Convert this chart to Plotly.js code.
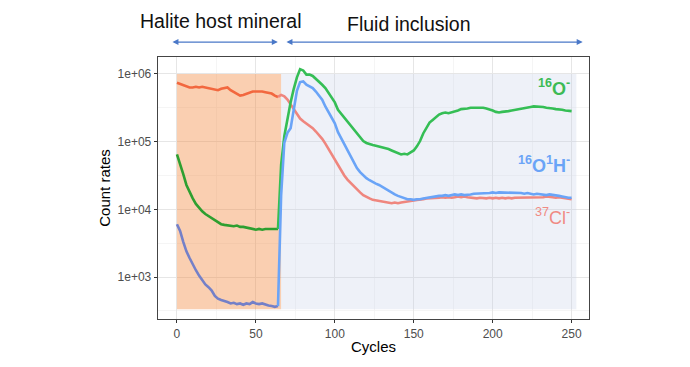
<!DOCTYPE html>
<html>
<head>
<meta charset="utf-8">
<script src="https://cdn.plot.ly/plotly-3.0.1.min.js"></script>
<style>html,body{margin:0;padding:0;background:#fff;}#chart{width:690px;height:367px;}</style>
</head>
<body>
<div id="chart"></div>
<script>
// Cycles (x)
var cycles = [0,2,4,6,8,10,12,14,16,18,20,22,24,26,28,30,32,34,36,38,40,42,44,46,48,50,52,54,56,58,60,62,64,66,68,70,72,74,76,78,80,82,84,86,88,90,92,94,96,98,100,102,104,106,108,110,112,114,116,118,120,122,124,126,128,130,132,134,136,138,140,142,144,146,148,150,152,154,156,158,160,162,164,166,168,170,172,174,176,178,180,182,184,186,188,190,192,194,196,198,200,202,204,206,208,210,212,214,216,218,220,222,224,226,228,230,232,234,236,238,240,242,244,246,248,250];

// 37Cl- count rates
var cl37 = [741000,708000,676000,646000,631000,631000,646000,631000,646000,631000,617000,603000,589000,575000,603000,617000,631000,575000,537000,501000,479000,490000,513000,537000,550000,550000,556000,550000,537000,525000,513000,479000,457000,490000,468000,417000,355000,302000,257000,219000,200000,186000,174000,158000,141000,126000,110000,93300,77600,64600,53700,43700,36300,31600,27500,24500,21900,19500,17800,16200,15100,14500,13800,13500,13200,12900,12900,12600,12300,12600,12300,12600,12900,12900,13200,13500,13800,13800,14100,14500,14500,14800,14500,14800,15100,14800,15100,14800,15100,15500,15100,15500,15100,14800,14500,14500,14800,14500,14500,14800,14500,14800,14500,14800,14500,14800,14500,14800,14800,15100,14800,15100,14800,15100,15100,14800,15100,15500,15100,15100,14800,15100,14800,14500,14500,14100];

// 16O- count rates
var o16 = [64600,47900,33100,22900,17800,14500,12000,10500,9330,8510,7940,7410,6760,6310,6030,5890,5750,5750,5620,5750,5500,5500,5370,5250,5130,5010,5130,5010,5130,5130,5010,5130,5130,45700,120000,224000,380000,603000,891000,1175000,1122000,977000,977000,933000,851000,776000,692000,617000,525000,447000,380000,295000,257000,229000,195000,174000,151000,129000,115000,102000,95500,91200,89100,87100,85100,83200,79400,77600,74100,70800,67600,64600,66100,64600,69200,74100,85100,102000,132000,162000,191000,209000,229000,251000,263000,269000,263000,269000,282000,288000,302000,302000,309000,316000,316000,324000,316000,316000,309000,302000,288000,275000,269000,275000,282000,282000,288000,295000,302000,309000,316000,324000,324000,331000,331000,324000,324000,316000,316000,309000,302000,302000,295000,288000,282000,282000];

// 16O1H- count rates
var oh = [6030,4790,3310,2400,1910,1510,1260,1050,891,776,708,631,525,479,457,447,427,407,417,398,407,389,407,398,427,407,398,407,389,380,372,363,372,16200,95500,135000,158000,282000,562000,759000,776000,692000,646000,617000,550000,479000,417000,331000,275000,229000,186000,138000,112000,91200,72400,58900,49000,40700,35500,31600,28800,26900,25100,24000,22900,21400,20000,18600,17800,16600,15800,15100,14500,14100,14100,13800,14100,14100,14500,14800,14800,15100,15500,15800,15800,16200,15800,16200,16600,16200,16600,16200,16200,16600,17000,17000,17400,17400,17000,17400,17800,17400,17800,17800,17400,17800,17400,17800,17400,17400,17000,17400,17000,16600,17000,16600,16600,16200,16600,16200,16200,15800,15500,15100,14800,14800];

var xTicks = [0,50,100,150,200,250];
var yTicks = [1e3,1e4,1e5,1e6];
var yTickText = ['1e+03','1e+04','1e+05','1e+06'];
var regionEnd = 66, regionMax = 253;

function seg(arr, lo, hi){
  var xs=[], ys=[];
  for (var i=0;i<cycles.length;i++){ if(cycles[i]>=lo && cycles[i]<=hi){xs.push(cycles[i]); ys.push(arr[i]);} }
  return {x:xs,y:ys};
}
function tr(arr, lo, hi, color){
  var s = seg(arr, lo, hi);
  return {x:s.x, y:s.y, type:'scatter', mode:'lines', line:{color:color, width:2.6}, hoverinfo:'skip', showlegend:false};
}
var split = 64;
var data = [
  tr(cl37, 0, split, '#f2683f'),
  tr(o16, 0, split, '#2e9f30'),
  tr(oh, 0, split, '#7480c8'),
  tr(cl37, split, 250, '#ef867e'),
  tr(o16, split, 250, '#35be55'),
  tr(oh, split, 250, '#6aa4f7')
];

var arrowColor = '#4a78c8';
var layout = {
  width:690, height:367,
  margin:{l:158, r:101, t:57, b:48},
  paper_bgcolor:'#ffffff', plot_bgcolor:'#ffffff',
  font:{family:'Liberation Sans, Arial, sans-serif', color:'#000'},
  showlegend:false,
  xaxis:{
    range:[-12,261], tickmode:'array', tickvals:xTicks, ticks:'outside', ticklen:3, tickcolor:'#333',
    tickfont:{size:12, color:'#4d4d4d'}, showgrid:true, gridcolor:'#e6e6e6', gridwidth:1,
    minor:{tickmode:'array', tickvals:[25,75,125,175,225], showgrid:true, gridcolor:'#f2f2f2', gridwidth:0.8, ticks:''},
    zeroline:false, showline:true, linecolor:'#444', linewidth:1.3, mirror:true,
    title:{text:'Cycles', font:{size:15, color:'#000'}, standoff:1}
  },
  yaxis:{
    type:'log', range:[2.38,6.25], tickmode:'array', tickvals:yTicks, ticktext:yTickText, ticks:'outside', ticklen:3, tickcolor:'#333',
    tickfont:{size:12, color:'#4d4d4d'}, showgrid:true, gridcolor:'#e6e6e6', gridwidth:1,
    minor:{tickmode:'array', tickvals:[316.2,3162,31623,316228], showgrid:true, gridcolor:'#f2f2f2', gridwidth:0.8, ticks:''},
    zeroline:false, showline:true, linecolor:'#444', linewidth:1.3, mirror:true,
    title:{text:'Count rates', font:{size:15, color:'#000'}, standoff:3}
  },
  shapes:[
    {type:'rect', xref:'x', yref:'y', x0:0, x1:regionEnd, y0:335, y1:1e6, layer:'between', line:{width:0}, fillcolor:'rgba(244,140,70,0.42)'},
    {type:'rect', xref:'x', yref:'y', x0:regionEnd, x1:regionMax, y0:335, y1:1e6, layer:'between', line:{width:0}, fillcolor:'rgba(200,210,232,0.3)'}
  ],
  annotations:[
    {xref:'paper', yref:'paper', x:0.144, y:1.137, text:'Halite host mineral', showarrow:false, font:{size:19.5, color:'#111'}, xanchor:'center', yanchor:'middle'},
    {xref:'paper', yref:'paper', x:0.582, y:1.126, text:'Fluid inclusion', showarrow:false, font:{size:19.5, color:'#111'}, xanchor:'center', yanchor:'middle'},
    {xref:'x', yref:'paper', x:63.9, y:1.057, axref:'x', ayref:'pixel', ax:-3.8, ay:0, text:'', showarrow:true, arrowside:'end+start', arrowhead:2, arrowsize:1, arrowwidth:1.2, arrowcolor:arrowColor, standoff:0, startstandoff:0},
    {xref:'x', yref:'paper', x:257, y:1.057, axref:'x', ayref:'pixel', ax:68.4, ay:0, text:'', showarrow:true, arrowside:'end+start', arrowhead:2, arrowsize:1, arrowwidth:1.2, arrowcolor:arrowColor, standoff:0, startstandoff:0},
    {xref:'x', yref:'paper', x:250, y:0.885, text:'<sup>16</sup>O<sup>-</sup>', showarrow:false, xanchor:'right', yanchor:'middle', font:{size:18, color:'#3cbb55', weight:'bold'}},
    {xref:'x', yref:'paper', x:250, y:0.588, text:'<sup>16</sup>O<sup>1</sup>H<sup>-</sup>', showarrow:false, xanchor:'right', yanchor:'middle', font:{size:18, color:'#6aa4f7', weight:'bold'}},
    {xref:'x', yref:'paper', x:250, y:0.39, text:'<sup>37</sup>Cl<sup>-</sup>', showarrow:false, xanchor:'right', yanchor:'middle', font:{size:18, color:'#f08a83'}}
  ]
};
Plotly.newPlot('chart', data, layout, {displayModeBar:false, staticPlot:true});
</script>
</body>
</html>
